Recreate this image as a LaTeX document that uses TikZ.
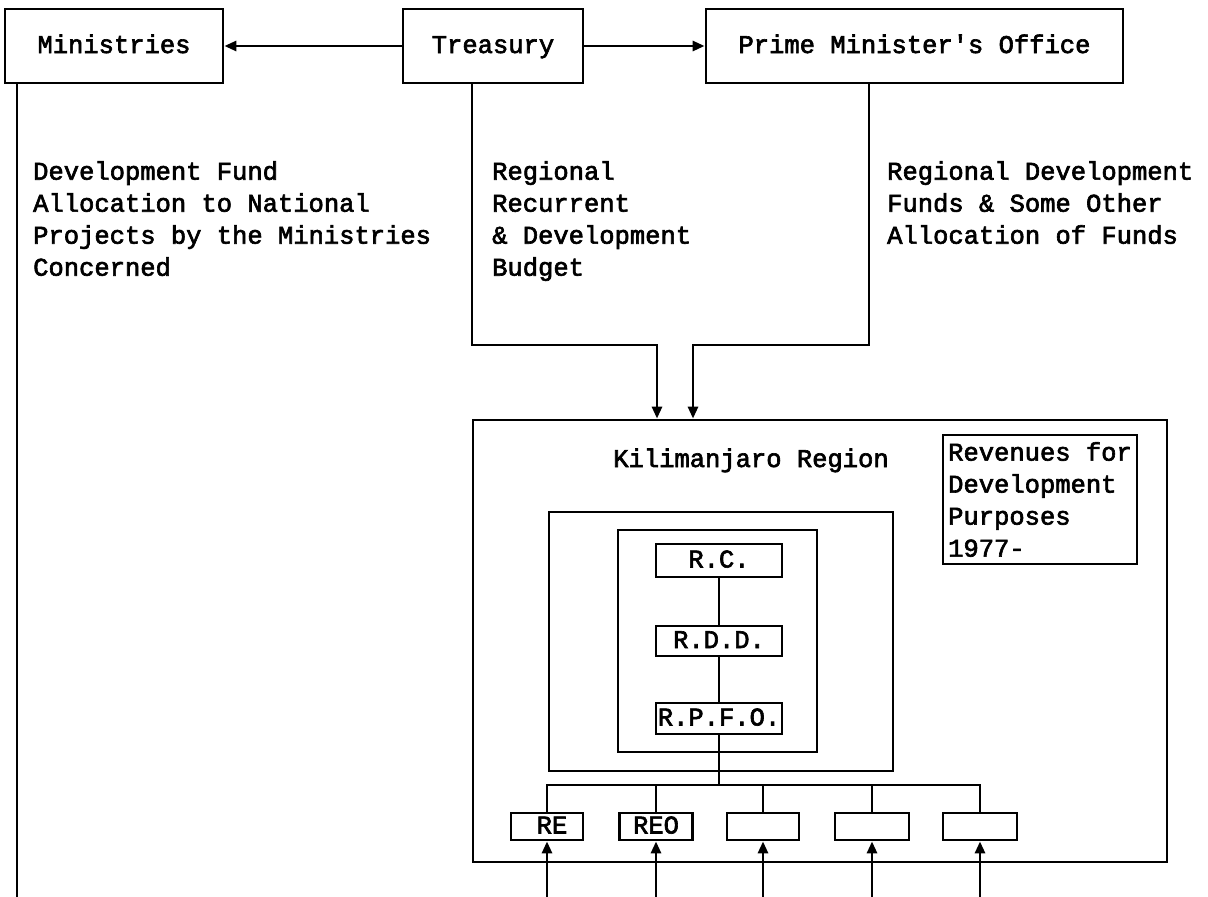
\documentclass[tikz,border=0pt]{standalone}
\usepackage{fontspec}
\newfontfamily\tw[FakeBold=2.5]{Liberation Mono}
\usetikzlibrary{arrows.meta}
\tikzset{
  lw/.style={line width=2.8pt},
  box/.style={draw, lw, inner sep=0pt, font=\tw\fontsize{25.5}{32}\selectfont},
  one/.style={text height=17pt, text depth=3pt},
  txt/.style={inner sep=0pt, align=left, font=\tw\fontsize{25.5}{32}\selectfont},
  arr/.style={lw, -{Triangle[length=12pt,width=10pt]}},
  con/.style={lw}
}
\begin{document}
\begin{tikzpicture}[x=1pt,y=-1pt]
\useasboundingbox (0,0) rectangle (1208,897);
% top row
\node[box, one, minimum width=218pt, minimum height=74pt] (min) at (114,46) {Ministries};
\node[box, one, minimum width=180pt, minimum height=74pt] (tre) at (493,46) {Treasury};
\node[box, one, minimum width=417pt, minimum height=74pt] (pmo) at (914.5,46) {Prime Minister's Office};
\draw[arr] (tre.west) -- (min.east);
\draw[arr] (tre.east) -- (pmo.west);
% column texts
\node[txt, anchor=north west] (t1) at (33,161) {Development Fund\\Allocation to National\\Projects by the Ministries\\Concerned};
\node[txt, anchor=north west] (t2) at (492,161) {Regional\\Recurrent\\\& Development\\Budget};
\node[txt, anchor=north west] (t3) at (887,161) {Regional Development\\Funds \& Some Other\\Allocation of Funds};
% Kilimanjaro region
\node[box, minimum width=694pt, minimum height=442pt] (kil) at (820,641) {};
\node[txt, anchor=base] (kt) at (751,467) {Kilimanjaro Region};
\node[box, minimum width=194pt, minimum height=129pt, align=left] (rev) at (1040,499.5) {Revenues for\\Development\\Purposes\\1977-};
\node[box, minimum width=344pt, minimum height=259pt] (mid) at (721,641.5) {};
\node[box, minimum width=199pt, minimum height=222pt] (inn) at (717.5,641) {};
\node[box, one, minimum width=126pt, minimum height=33pt] (rc) at (719,560.5) {R.C.};
\node[box, one, minimum width=126pt, minimum height=30pt] (rdd) at (719,641) {R.D.D.};
\node[box, one, minimum width=126pt, minimum height=31pt] (rpfo) at (719,718.5) {R.P.F.O.};
% bottom boxes
\node[box, one, minimum width=72pt, minimum height=27pt] (re) at (547,826.5) {\hspace*{10pt}RE};
\node[box, one, minimum width=73pt, minimum height=27pt] (reo) at (656,826.5) {REO};
\node[box, minimum width=72pt, minimum height=27pt] (b3) at (763,826.5) {};
\node[box, minimum width=74pt, minimum height=27pt] (b4) at (872,826.5) {};
\node[box, minimum width=74pt, minimum height=27pt] (b5) at (980,826.5) {};
% coordinates
\coordinate (bus) at (719,785);
\coordinate (bot) at (0,897);
\coordinate (tj) at (472,345);
\coordinate (pj) at (869,345);
\coordinate (ka) at (657,420);
\coordinate (kb) at (693,420);
\coordinate (ml) at (17,897);
% connectors from top
\draw[con] (min.south -| ml) -- (ml);
\draw[arr] (tre.south -| tj) -- (tj) -- (tj -| ka) -- (kil.north -| ka);
\draw[arr] (pmo.south -| pj) -- (pj) -- (pj -| kb) -- (kil.north -| kb);
% hierarchy
\draw[con] (rc) -- (rdd);
\draw[con] (rdd) -- (rpfo);
\draw[con] (rpfo.south) -- (rpfo.south |- bus);
\draw[con] (re.north) -- (re.north |- bus) -- (b5.north |- bus) -- (b5.north);
\draw[con] (reo.north) -- (reo.north |- bus);
\draw[con] (b3.north) -- (b3.north |- bus);
\draw[con] (b4.north) -- (b4.north |- bus);
% incoming arrows
\draw[arr] (re.south |- bot) -- (re.south);
\draw[arr] (reo.south |- bot) -- (reo.south);
\draw[arr] (b3.south |- bot) -- (b3.south);
\draw[arr] (b4.south |- bot) -- (b4.south);
\draw[arr] (b5.south |- bot) -- (b5.south);
\end{tikzpicture}
\end{document}
